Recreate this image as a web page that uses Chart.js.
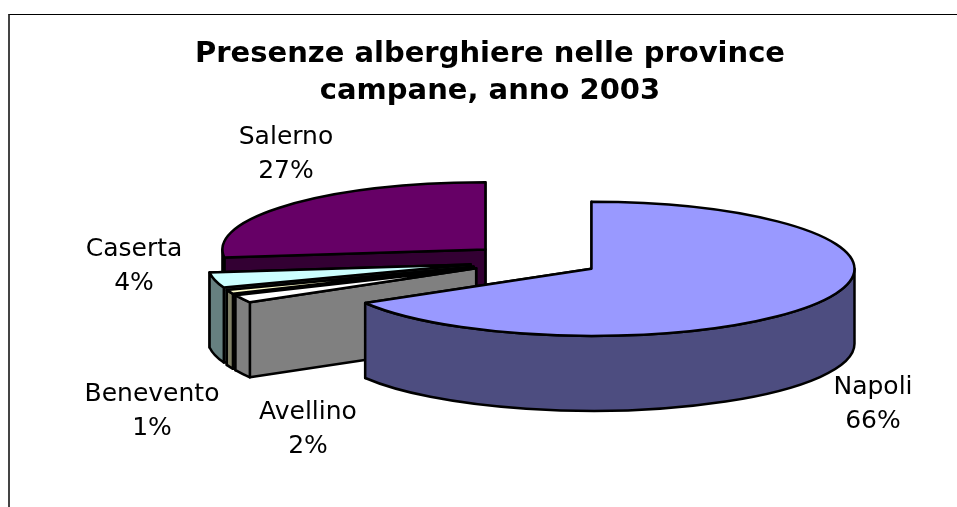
<!DOCTYPE html>
<html>
<head>
<meta charset="utf-8">
<script src="https://cdn.jsdelivr.net/npm/chart.js@4/dist/chart.umd.js"></script>
<style>
  html, body { margin: 0; background: #fff; overflow: hidden; }
  #frame {
    position: absolute; left: 8px; top: 14px; width: 947px; height: 493px;
    border-left: 2px solid #444; border-top: 1px solid #000; overflow: hidden;
  }
  canvas { display: block; }
</style>
</head>
<body>
<div id="frame"><canvas id="myChart" width="960" height="492"></canvas></div>
<script>
  // metrics
  var provinces = ["Napoli", "Avellino", "Benevento", "Caserta", "Salerno"];
  var shares = [66.49, 1.91, 1.0, 3.7, 26.9];
  var topColors = ["#9999FF", "#FFFFFF", "#FFFFCC", "#CCFFFF", "#660066"];
  var wallColors = ["#4D4D80", "#808080", "#808066", "#668080", "#330033"];
  var titleLines = ["Presenze alberghiere nelle province", "campane, anno 2003"];

  // look of the tilted pie
  var tilt = 0.255;
  var depth = 75;
  var explode = 65.6;
  var shiftX = 44.5;
  var labelFont = '25px "DejaVu Sans"';
  // label centres on the canvas, in provinces order
  var labelSpots = [[863, 372], [298, 397], [142, 379], [124, 234], [276, 122]];

  var pie3d = {
    id: 'pie3d',
    beforeDatasetDraw: function(chart, args) {
      var ctx = chart.ctx;
      var arcs = args.meta.data;
      ctx.save();
      ctx.translate(shiftX, 0);
      ctx.lineWidth = 2.5;
      ctx.strokeStyle = '#000';
      ctx.lineJoin = 'round';
      // back slices first, Napoli last
      for (var i = arcs.length - 1; i >= 0; i--) {
        drawSlice(ctx, arcs[i], i);
      }
      ctx.restore();
      return false;
    },
    afterDraw: function(chart) {
      var ctx = chart.ctx;
      var total = shares.reduce(function(a, b) { return a + b; }, 0);
      ctx.save();
      ctx.fillStyle = '#000';
      ctx.font = labelFont;
      ctx.textAlign = 'center';
      ctx.textBaseline = 'middle';
      provinces.forEach(function(name, i) {
        ctx.fillText(name, labelSpots[i][0], labelSpots[i][1]);
        ctx.fillText(Math.round(shares[i] / total * 100) + '%', labelSpots[i][0], labelSpots[i][1] + 34);
      });
      ctx.restore();
    }
  };

  function drawSlice(ctx, arc, i) {
    var mid = (arc.startAngle + arc.endAngle) / 2;
    var r = arc.outerRadius;
    var cx = arc.x + Math.cos(mid) * explode;
    var cy = arc.y + Math.sin(mid) * explode * tilt;

    // cut faces, the end one is the far one for every slice here
    ctx.fillStyle = wallColors[i];
    [arc.endAngle, arc.startAngle].forEach(function(a) {
      var rx = cx + Math.cos(a) * r;
      var ry = cy + Math.sin(a) * r * tilt;
      ctx.beginPath();
      ctx.moveTo(cx, cy);
      ctx.lineTo(rx, ry);
      ctx.lineTo(rx, ry + depth);
      ctx.lineTo(cx, cy + depth);
      ctx.closePath();
      ctx.fill();
      ctx.stroke();
    });

    // rim, only the part that faces the viewer
    var from = Math.max(arc.startAngle, 0);
    var to = Math.min(arc.endAngle, Math.PI);
    if (to > from) {
      ctx.beginPath();
      ctx.ellipse(cx, cy, r, r * tilt, 0, from, to);
      ctx.ellipse(cx, cy + depth, r, r * tilt, 0, to, from, true);
      ctx.closePath();
      ctx.fill();
      ctx.stroke();
    }

    // top face is the library's own arc, squashed
    ctx.save();
    ctx.translate(cx, cy);
    ctx.scale(1, tilt);
    ctx.translate(-arc.x, -arc.y);
    arc.draw(ctx);
    ctx.restore();

    ctx.beginPath();
    ctx.moveTo(cx, cy);
    ctx.ellipse(cx, cy, r, r * tilt, 0, arc.startAngle, arc.endAngle);
    ctx.closePath();
    ctx.stroke();
  }

  new Chart("myChart", {
    type: "pie",
    data: {
      labels: provinces,
      datasets: [{
        data: shares,
        backgroundColor: topColors,
        borderWidth: 0
      }]
    },
    options: {
      responsive: false,
      animation: false,
      radius: 263,
      layout: { padding: { bottom: 103 } },
      plugins: {
        legend: { display: false },
        tooltip: { enabled: false },
        title: {
          display: true,
          text: titleLines,
          color: '#000',
          font: { family: '"DejaVu Sans"', size: 29, weight: 'bold', lineHeight: 1.27 },
          padding: { top: 21, bottom: 7.4 }
        }
      }
    },
    plugins: [pie3d]
  });
</script>
</body>
</html>
